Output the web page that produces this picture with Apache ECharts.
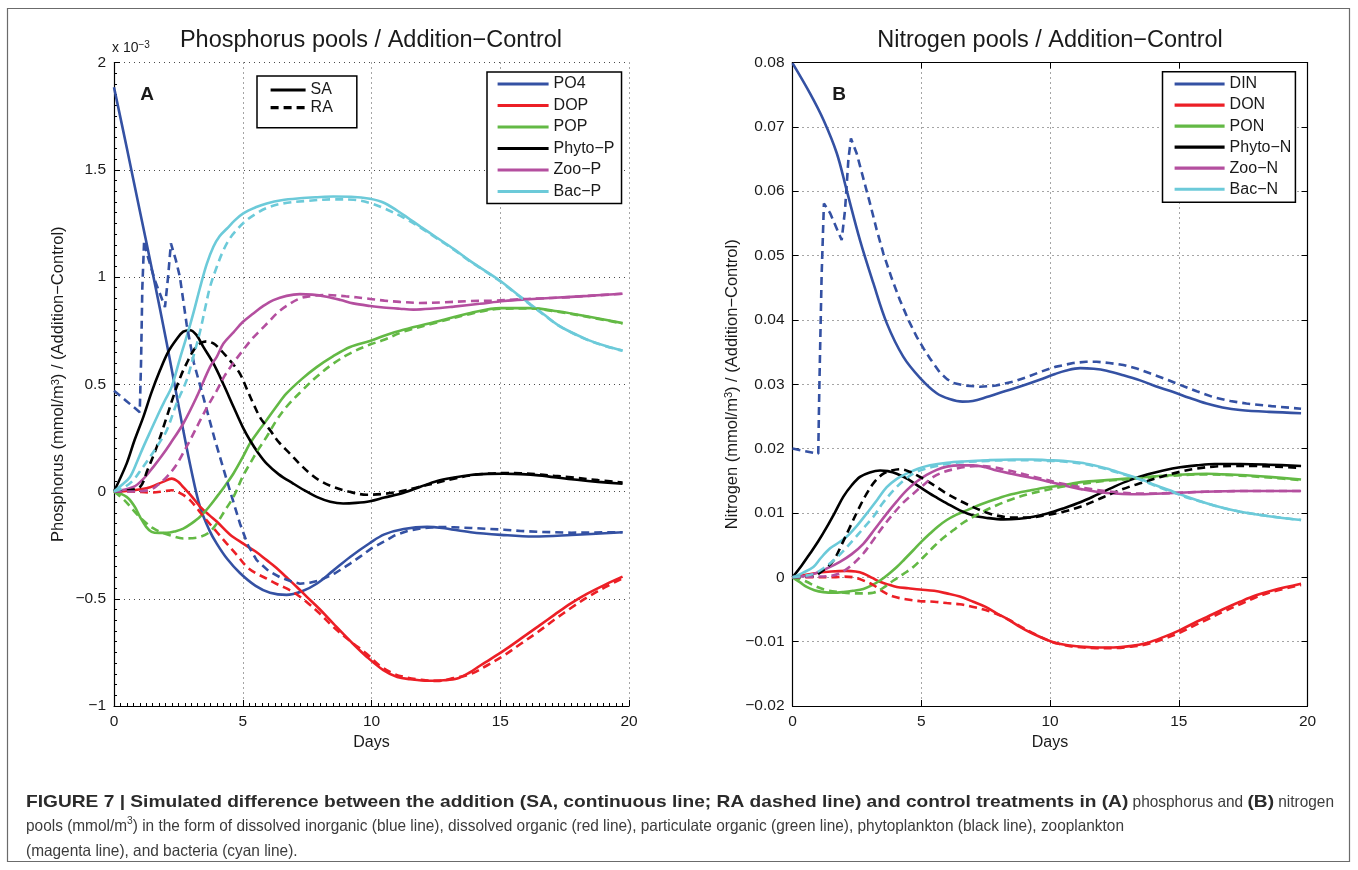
<!DOCTYPE html>
<html>
<head>
<meta charset="utf-8">
<script src="https://cdn.jsdelivr.net/npm/echarts/dist/echarts.min.js"></script>
<style>
  html, body { margin: 0; padding: 0; background: #ffffff; }
  #chart { width: 1358px; height: 870px; }
</style>
</head>
<body>
<div id="chart"></div>
<script>
// ---- Phosphorus pools (Addition − Control), units of 1e-3 mmol/m3; [day, value] ----
const po4SA = [[0,1.885],[0.5,1.6],[1,1.31],[1.5,1.02],[2.05,0.69],[2.69,0.285],[3.0,0.1],[3.34,-0.072],[3.7,-0.18],[3.99,-0.243],[4.4,-0.315],[4.89,-0.38],[5.5,-0.44],[6.06,-0.472],[6.7,-0.482],[7.3,-0.465],[7.87,-0.43],[8.5,-0.37],[9.17,-0.305],[9.94,-0.24],[10.5,-0.2],[11.25,-0.175],[12.16,-0.165],[12.74,-0.17],[13.85,-0.19],[15.02,-0.202],[16.3,-0.21],[17.76,-0.203],[19.75,-0.19]];
const po4RA = [[0,0.47],[0.5,0.42],[1.0,0.37],[1.05,0.6],[1.1,0.95],[1.17,1.17],[1.3,1.1],[1.6,0.98],[1.98,0.86],[2.1,1.0],[2.21,1.157],[2.4,1.08],[2.56,1.0],[2.82,0.78],[3.1,0.6],[3.47,0.44],[3.92,0.24],[4.38,0.053],[4.89,-0.149],[5.2,-0.25],[5.54,-0.32],[6.0,-0.37],[6.45,-0.40],[6.9,-0.42],[7.22,-0.43],[7.6,-0.425],[8.0,-0.414],[8.6,-0.38],[9.17,-0.336],[9.6,-0.3],[10.0,-0.265],[10.46,-0.235],[10.9,-0.205],[11.37,-0.185],[11.9,-0.172],[12.54,-0.165],[13.2,-0.167],[13.85,-0.17],[14.5,-0.174],[15.15,-0.178],[15.8,-0.184],[16.46,-0.188],[17.1,-0.19],[17.76,-0.192],[18.7,-0.191],[19.75,-0.19]];
const dopSA = [[0,0],[0.7,0.005],[1.4,0.02],[1.9,0.045],[2.24,0.06],[2.5,0.045],[2.69,0.02],[3.0,-0.02],[3.34,-0.07],[3.7,-0.11],[3.99,-0.14],[4.5,-0.2],[5.02,-0.243],[5.5,-0.28],[5.93,-0.32],[6.3,-0.355],[6.7,-0.40],[7.1,-0.445],[7.48,-0.49],[8.0,-0.55],[8.52,-0.616],[9.2,-0.7],[9.81,-0.77],[10.46,-0.833],[11.0,-0.865],[11.5,-0.875],[12.2,-0.882],[12.8,-0.88],[13.33,-0.872],[13.8,-0.845],[14.24,-0.81],[15.15,-0.741],[15.8,-0.686],[16.46,-0.63],[17.1,-0.575],[17.76,-0.52],[18.4,-0.475],[19.06,-0.435],[19.75,-0.397]];
const dopRA = [[0,0],[0.7,0],[1.4,-0.005],[1.9,0.0],[2.24,0.006],[2.6,-0.01],[2.95,-0.04],[3.3,-0.09],[3.6,-0.134],[4.0,-0.19],[4.38,-0.243],[4.8,-0.3],[5.15,-0.35],[5.5,-0.38],[5.93,-0.406],[6.3,-0.43],[6.7,-0.452],[7.1,-0.48],[7.48,-0.515],[8.0,-0.57],[8.52,-0.632],[9.2,-0.7],[9.81,-0.756],[10.3,-0.81],[10.85,-0.849],[11.4,-0.868],[11.88,-0.877],[12.54,-0.883],[13.2,-0.87],[13.85,-0.851],[14.5,-0.81],[15.15,-0.764],[15.8,-0.71],[16.46,-0.655],[17.1,-0.598],[17.76,-0.542],[18.4,-0.492],[19.06,-0.447],[19.75,-0.405]];
const popSA = [[0,0],[0.49,-0.025],[0.8,-0.07],[1.01,-0.118],[1.25,-0.165],[1.46,-0.188],[1.75,-0.193],[2.05,-0.193],[2.4,-0.185],[2.69,-0.173],[3.0,-0.15],[3.34,-0.118],[3.7,-0.07],[3.99,-0.025],[4.3,0.025],[4.64,0.084],[5.0,0.16],[5.28,0.224],[5.6,0.28],[5.93,0.333],[6.3,0.395],[6.7,0.457],[7.3,0.525],[7.87,0.58],[8.5,0.63],[9.17,0.674],[9.94,0.702],[10.46,0.725],[11.24,0.754],[12.54,0.793],[13.84,0.832],[15.02,0.855],[16.19,0.855],[17.23,0.84],[18.4,0.816],[19.75,0.785]];
const popRA = [[0,0],[0.4,-0.04],[0.75,-0.087],[1.0,-0.12],[1.27,-0.149],[1.5,-0.17],[1.79,-0.188],[2.2,-0.205],[2.69,-0.219],[3.0,-0.218],[3.34,-0.212],[3.7,-0.19],[3.99,-0.149],[4.3,-0.09],[4.64,-0.025],[5.0,0.07],[5.28,0.13],[5.6,0.195],[5.93,0.255],[6.3,0.33],[6.7,0.395],[7.3,0.47],[7.87,0.535],[8.5,0.595],[9.17,0.644],[9.94,0.685],[10.46,0.706],[11.24,0.745],[12.54,0.788],[13.84,0.828],[15.02,0.852],[16.19,0.853],[17.23,0.838],[18.4,0.814],[19.75,0.783]];
const phyPSA = [[0,0],[0.49,0.13],[0.8,0.24],[1.14,0.348],[1.45,0.46],[1.79,0.566],[2.1,0.65],[2.43,0.71],[2.69,0.745],[2.95,0.752],[3.2,0.73],[3.47,0.674],[3.86,0.597],[4.25,0.5],[4.64,0.395],[5.0,0.3],[5.28,0.239],[5.6,0.18],[5.93,0.13],[6.4,0.08],[6.96,0.037],[7.4,0.005],[7.87,-0.025],[8.4,-0.048],[8.9,-0.056],[9.4,-0.053],[9.94,-0.045],[10.5,-0.028],[11.25,-0.006],[11.9,0.022],[12.55,0.049],[13.2,0.065],[13.85,0.077],[14.5,0.082],[15.15,0.083],[15.8,0.081],[16.5,0.075],[17.76,0.057],[18.8,0.045],[19.75,0.036]];
const phyPRA = [[0,0],[0.5,0.005],[1.01,0.021],[1.3,0.1],[1.66,0.208],[2.0,0.33],[2.3,0.441],[2.6,0.54],[2.82,0.597],[3.1,0.66],[3.34,0.69],[3.6,0.7],[3.86,0.69],[4.1,0.665],[4.38,0.628],[4.65,0.59],[4.89,0.55],[5.15,0.48],[5.41,0.41],[5.7,0.34],[6.06,0.286],[6.4,0.23],[6.83,0.177],[7.2,0.13],[7.61,0.084],[8.0,0.05],[8.52,0.021],[9.1,0.0],[9.81,-0.015],[10.4,-0.012],[11.1,0.0],[11.8,0.02],[12.5,0.04],[13.2,0.06],[13.85,0.075],[14.5,0.083],[15.15,0.086],[15.8,0.085],[16.5,0.08],[17.1,0.073],[17.76,0.066],[18.8,0.053],[19.75,0.042]];
const zooPSA = [[0,0],[0.75,0.021],[1.15,0.06],[1.53,0.115],[1.85,0.165],[2.19,0.224],[2.69,0.317],[3.21,0.441],[3.73,0.581],[3.99,0.628],[4.25,0.69],[4.64,0.742],[5.0,0.79],[5.41,0.83],[5.8,0.865],[6.19,0.892],[6.7,0.912],[7.22,0.92],[7.7,0.918],[8.26,0.908],[8.8,0.893],[9.29,0.877],[9.94,0.865],[10.46,0.858],[11.1,0.852],[11.63,0.848],[12.4,0.853],[13.19,0.862],[14.2,0.875],[15.15,0.888],[16.1,0.896],[17.1,0.903],[18.4,0.912],[19.75,0.922]];
const zooPRA = [[0,0],[0.7,0.0],[1.4,0.008],[1.7,0.03],[2.05,0.068],[2.4,0.12],[2.69,0.18],[3.0,0.25],[3.34,0.33],[3.65,0.4],[3.99,0.47],[4.3,0.54],[4.64,0.6],[5.02,0.66],[5.35,0.71],[5.67,0.75],[6.0,0.79],[6.32,0.83],[6.7,0.865],[7.22,0.9],[7.7,0.912],[8.26,0.916],[9.0,0.91],[9.81,0.9],[10.5,0.89],[11.1,0.884],[11.89,0.879],[12.8,0.882],[13.84,0.888],[14.8,0.89],[15.6,0.895],[16.5,0.9],[17.5,0.905],[18.6,0.913],[19.75,0.922]];
const bacPSA = [[0,0],[0.3,0.03],[0.62,0.068],[0.9,0.14],[1.14,0.208],[1.45,0.29],[1.79,0.379],[2.0,0.43],[2.24,0.488],[2.56,0.62],[2.89,0.75],[3.1,0.84],[3.34,0.95],[3.6,1.06],[3.86,1.141],[4.1,1.19],[4.38,1.225],[4.7,1.265],[5.02,1.297],[5.5,1.325],[5.93,1.343],[6.5,1.358],[7.22,1.367],[7.9,1.372],[8.52,1.375],[9.2,1.374],[9.94,1.365],[10.5,1.345],[11.24,1.29],[11.9,1.235],[12.54,1.183],[13.2,1.13],[13.84,1.074],[14.4,1.03],[15.02,0.98],[15.6,0.925],[16.19,0.871],[16.7,0.825],[17.23,0.777],[17.8,0.74],[18.4,0.707],[19.1,0.678],[19.75,0.657]];
const bacPRA = [[0,0],[0.4,0.02],[0.75,0.053],[1.1,0.11],[1.4,0.161],[1.75,0.225],[2.05,0.286],[2.43,0.41],[2.82,0.519],[3.08,0.628],[3.34,0.745],[3.55,0.86],[3.73,0.954],[4.0,1.05],[4.25,1.125],[4.5,1.18],[4.76,1.219],[5.1,1.26],[5.54,1.297],[6.0,1.325],[6.57,1.343],[7.5,1.355],[8.52,1.362],[9.3,1.36],[9.94,1.345],[10.5,1.32],[11.24,1.277],[11.9,1.23],[12.54,1.18],[13.2,1.127],[13.84,1.072],[14.4,1.028],[15.02,0.978],[15.6,0.923],[16.19,0.869],[16.7,0.823],[17.23,0.776],[17.8,0.739],[18.4,0.706],[19.1,0.677],[19.75,0.656]];

// ---- Nitrogen pools (Addition − Control), mmol/m3; [day, value] ----
const dinSA = [[0,0.0799],[0.68,0.0752],[1.2,0.0711],[1.72,0.0659],[2.1,0.0602],[2.62,0.0524],[3.14,0.0457],[3.66,0.0395],[4.3,0.0343],[4.95,0.031],[5.6,0.0286],[6.1,0.0277],[6.6,0.0273],[7.0,0.0274],[7.54,0.028],[8.0,0.0286],[8.57,0.0293],[9.1,0.03],[9.6,0.0307],[10.2,0.0316],[10.6,0.0321],[11.17,0.0325],[11.7,0.0324],[12.2,0.0321],[12.85,0.0314],[13.5,0.0306],[14.1,0.0297],[14.79,0.0288],[15.4,0.0279],[16.08,0.027],[16.7,0.0264],[17.38,0.026],[18.5,0.0257],[19.75,0.0255]];
const dinRA = [[0,0.02],[0.5,0.0196],[1.0,0.0192],[1.04,0.029],[1.07,0.035],[1.13,0.0467],[1.22,0.0581],[1.46,0.0566],[1.91,0.0524],[2.04,0.0571],[2.17,0.0649],[2.27,0.0682],[2.49,0.0659],[2.75,0.062],[3.01,0.0581],[3.27,0.054],[3.53,0.0503],[3.85,0.0465],[4.17,0.0431],[4.5,0.04],[4.82,0.0374],[5.1,0.0355],[5.34,0.034],[5.73,0.0318],[6.0,0.0308],[6.24,0.0302],[6.7,0.0298],[7.28,0.0296],[7.9,0.0298],[8.57,0.0304],[9.1,0.0311],[9.61,0.0319],[10.2,0.0327],[10.9,0.0333],[11.4,0.0335],[11.81,0.0335],[12.3,0.0333],[12.85,0.033],[13.4,0.0324],[13.88,0.0317],[14.5,0.0308],[15.05,0.0299],[15.7,0.0289],[16.34,0.028],[17.0,0.0274],[17.63,0.027],[18.6,0.0266],[19.75,0.0262]];
const donSA = [[0,0],[0.81,0.0006],[1.5,0.0009],[2.1,0.001],[2.45,0.0009],[2.75,0.0006],[3.1,-0.0001],[3.4,-0.0007],[3.7,-0.0011],[4.05,-0.0015],[4.5,-0.0017],[4.95,-0.0019],[5.5,-0.0021],[5.99,-0.0025],[6.5,-0.003],[7.02,-0.0038],[7.5,-0.0046],[7.93,-0.0056],[8.4,-0.0066],[8.83,-0.0077],[9.3,-0.0087],[9.87,-0.0097],[10.3,-0.0103],[10.78,-0.0106],[11.3,-0.0108],[11.81,-0.0109],[12.46,-0.0109],[13.1,-0.0107],[13.76,-0.0102],[14.4,-0.0093],[15.05,-0.0082],[15.6,-0.0071],[16.08,-0.0062],[16.7,-0.005],[17.38,-0.0038],[18.0,-0.0028],[18.67,-0.002],[19.75,-0.001]];
const donRA = [[0,0],[0.8,0.0],[1.59,0.0],[2.0,0.0001],[2.36,0.0],[2.75,-0.0005],[3.14,-0.0012],[3.5,-0.0022],[3.92,-0.003],[4.4,-0.0034],[4.95,-0.0037],[5.5,-0.0038],[5.99,-0.004],[6.5,-0.0042],[7.02,-0.0046],[7.5,-0.0051],[7.93,-0.0057],[8.4,-0.0066],[8.83,-0.0076],[9.3,-0.0086],[9.87,-0.0097],[10.3,-0.0103],[10.78,-0.0107],[11.3,-0.0109],[11.81,-0.011],[12.46,-0.011],[13.1,-0.0108],[13.76,-0.0104],[14.4,-0.0096],[15.05,-0.0086],[15.6,-0.0075],[16.08,-0.0066],[16.7,-0.0054],[17.38,-0.0042],[18.0,-0.0031],[18.67,-0.0022],[19.75,-0.0012]];
const ponSA = [[0,0],[0.3,-0.0008],[0.55,-0.0015],[0.85,-0.002],[1.2,-0.0023],[1.6,-0.0024],[1.97,-0.0023],[2.35,-0.0021],[2.75,-0.0018],[3.1,-0.0012],[3.4,-0.0005],[3.7,0.0004],[4.05,0.0016],[4.35,0.0028],[4.69,0.0042],[5.0,0.0055],[5.34,0.0068],[5.65,0.0079],[5.99,0.0089],[6.35,0.0097],[6.76,0.0104],[7.3,0.0113],[7.93,0.0122],[8.5,0.0129],[9.22,0.0135],[9.9,0.014],[10.52,0.0143],[10.9,0.0146],[11.5,0.0149],[12.2,0.0151],[12.85,0.0153],[13.5,0.0155],[14.1,0.0157],[14.79,0.0159],[15.4,0.016],[16.08,0.0161],[16.7,0.016],[17.38,0.0159],[18.5,0.0156],[19.75,0.0152]];
const ponRA = [[0,0],[0.3,-0.0003],[0.55,-0.0007],[0.9,-0.0014],[1.33,-0.002],[1.8,-0.0023],[2.36,-0.0025],[2.75,-0.0025],[3.14,-0.0024],[3.5,-0.0017],[3.92,-0.0005],[4.3,0.0005],[4.69,0.0016],[5.1,0.0032],[5.47,0.0047],[5.85,0.0061],[6.24,0.0073],[6.6,0.0084],[7.02,0.0094],[7.45,0.0103],[7.93,0.0112],[8.5,0.0121],[9.22,0.013],[9.9,0.0136],[10.52,0.0141],[11.2,0.0145],[12.2,0.015],[13.5,0.0154],[14.79,0.0158],[16.08,0.016],[17.38,0.0158],[18.5,0.0155],[19.75,0.0151]];
const phyNSA = [[0,0],[0.35,0.0018],[0.68,0.0037],[1.0,0.0056],[1.33,0.0078],[1.65,0.0101],[1.97,0.0125],[2.3,0.0143],[2.62,0.0156],[3.0,0.0163],[3.4,0.0166],[3.7,0.0165],[4.05,0.0161],[4.5,0.0152],[4.95,0.014],[5.5,0.0126],[5.99,0.0115],[6.5,0.0104],[7.02,0.0096],[7.6,0.0092],[8.19,0.009],[8.8,0.0091],[9.35,0.0094],[9.9,0.0099],[10.52,0.0107],[11.2,0.0117],[11.81,0.0128],[12.5,0.0141],[13.1,0.0151],[13.8,0.016],[14.4,0.0166],[15.05,0.0171],[15.7,0.0174],[16.4,0.0176],[17.38,0.0176],[18.5,0.0175],[19.75,0.0173]];
const phyNRA = [[0,0],[0.5,0.0001],[0.81,0.0002],[1.2,0.0011],[1.59,0.0026],[1.9,0.005],[2.23,0.0078],[2.55,0.0105],[2.88,0.013],[3.2,0.0149],[3.53,0.0161],[3.85,0.0166],[4.17,0.0168],[4.55,0.0164],[4.95,0.0156],[5.5,0.0143],[5.99,0.013],[6.5,0.0119],[7.02,0.0109],[7.5,0.0101],[7.93,0.0096],[8.5,0.0093],[9.22,0.0093],[9.9,0.0097],[10.52,0.0102],[11.2,0.011],[11.81,0.012],[12.5,0.0132],[13.1,0.0141],[13.5,0.0146],[14.3,0.0156],[15.05,0.0164],[15.7,0.0169],[16.34,0.0172],[17.1,0.0173],[17.9,0.0173],[18.8,0.0172],[19.75,0.017]];
const zooNSA = [[0,0],[0.5,0.0002],[0.81,0.0005],[1.3,0.0013],[1.84,0.0024],[2.3,0.0036],[2.75,0.0052],[3.2,0.0075],[3.66,0.0099],[4.05,0.0118],[4.43,0.0135],[4.8,0.0148],[5.21,0.0159],[5.6,0.0167],[5.99,0.0172],[6.5,0.0174],[7.02,0.0174],[7.5,0.0171],[7.93,0.0166],[8.5,0.0161],[9.22,0.0155],[9.9,0.0149],[10.52,0.0143],[11.2,0.0137],[12.2,0.0131],[13.5,0.0129],[14.79,0.0131],[16.0,0.0133],[17.38,0.0134],[18.5,0.0134],[19.75,0.0134]];
const zooNRA = [[0,0],[0.8,0.0001],[1.59,0.0003],[2.0,0.001],[2.36,0.0021],[2.75,0.0037],[3.14,0.0058],[3.5,0.0078],[3.92,0.0099],[4.3,0.0116],[4.69,0.013],[5.1,0.0144],[5.47,0.0156],[5.9,0.0164],[6.38,0.0169],[6.8,0.0172],[7.28,0.0173],[7.8,0.0171],[8.4,0.0166],[9.0,0.016],[9.6,0.0154],[10.2,0.0148],[10.9,0.0142],[11.6,0.0137],[12.4,0.0133],[13.5,0.013],[14.79,0.0131],[16.0,0.0133],[17.38,0.0134],[19.75,0.0134]];
const bacNSA = [[0,0],[0.4,0.0007],[0.81,0.0016],[1.1,0.003],[1.46,0.0045],[1.8,0.0054],[2.1,0.0063],[2.5,0.008],[2.88,0.0099],[3.3,0.0121],[3.66,0.014],[4.05,0.0153],[4.43,0.0161],[4.9,0.0169],[5.34,0.0174],[6.0,0.0178],[6.63,0.018],[7.6,0.0182],[8.57,0.0183],[9.3,0.0183],[9.9,0.0182],[10.5,0.0181],[11.2,0.0178],[11.7,0.0174],[12.2,0.0169],[12.85,0.0161],[13.5,0.0153],[14.1,0.0143],[14.79,0.0133],[15.4,0.0124],[16.08,0.0115],[16.7,0.0108],[17.38,0.0102],[18.5,0.0095],[19.75,0.0089]];
const bacNRA = [[0,0],[0.4,0.0002],[0.81,0.0005],[1.2,0.0014],[1.59,0.0026],[1.95,0.004],[2.36,0.0058],[2.75,0.0076],[3.14,0.0094],[3.5,0.0115],[3.92,0.0135],[4.3,0.015],[4.69,0.0161],[5.1,0.0168],[5.6,0.0173],[6.1,0.0177],[6.63,0.0179],[7.6,0.0181],[8.57,0.0182],[9.3,0.0182],[9.9,0.0181],[10.5,0.018],[11.2,0.0177],[11.7,0.0173],[12.2,0.0168],[12.85,0.016],[13.5,0.0152],[14.1,0.0142],[14.79,0.0132],[15.4,0.0123],[16.08,0.0115],[16.7,0.0108],[17.38,0.0102],[18.5,0.0095],[19.75,0.0089]];

// ---- names, colours, tick labels ----
const phosNames = ['PO4', 'DOP', 'POP', 'Phyto−P', 'Zoo−P', 'Bac−P'];
const nitroNames = ['DIN', 'DON', 'PON', 'Phyto−N', 'Zoo−N', 'Bac−N'];
const treatmentNames = ['SA', 'RA'];
const poolColors = ['#3451a3', '#ec1f26', '#63b945', '#000000', '#b44f9f', '#6ccad9'];
const dayTicks = [0, 5, 10, 15, 20];
const phosTicks = [-1, -0.5, 0, 0.5, 1, 1.5, 2];
const nitroTicks = [-0.02, -0.01, 0, 0.01, 0.02, 0.03, 0.04, 0.05, 0.06, 0.07, 0.08];

const phosSA = [po4SA, dopSA, popSA, phyPSA, zooPSA, bacPSA];
const phosRA = [po4RA, dopRA, popRA, phyPRA, zooPRA, bacPRA];
const nitroSA = [dinSA, donSA, ponSA, phyNSA, zooNSA, bacNSA];
const nitroRA = [dinRA, donRA, ponRA, phyNRA, zooNRA, bacNRA];
const spikySeries = [po4RA, dinRA];

const FONT = '"Liberation Sans", Arial, Helvetica, sans-serif';
const TEXT = '#1a1a1a';
const DASH = [8, 5];
const LW = 2.6;

function fmtMinus(v, digits) {
  const r = +(+v).toFixed(digits);
  if (r === 0) return '0';
  return (r < 0 ? '−' : '') + String(Math.abs(r));
}

function mkSeries(name, data, color, dashed, axisIndex) {
  return {
    type: 'line', name, data,
    xAxisIndex: axisIndex, yAxisIndex: axisIndex,
    symbol: 'none', showSymbol: false,
    smooth: spikySeries.includes(data) ? false : 0.35,
    lineStyle: { color, width: LW, type: dashed ? DASH : 'solid', cap: 'butt' },
    itemStyle: { color },
    emphasis: { disabled: true },
    silent: true,
    animation: false,
    z: dashed ? 4 : 3
  };
}

const series = [];
phosSA.forEach((d, i) => series.push(mkSeries(phosNames[i], d, poolColors[i], false, 0)));
phosRA.forEach((d, i) => series.push(mkSeries(phosNames[i], d, poolColors[i], true, 0)));
nitroSA.forEach((d, i) => series.push(mkSeries(nitroNames[i], d, poolColors[i], false, 1)));
nitroRA.forEach((d, i) => series.push(mkSeries(nitroNames[i], d, poolColors[i], true, 1)));
// treatment key entries (solid = SA, dashed = RA)
series.push(mkSeries(treatmentNames[0], [], '#000000', false, 0));
series.push(mkSeries(treatmentNames[1], [], '#000000', true, 0));

const gridBox = [
  { left: 114, top: 62.5, width: 515, height: 643.5 },
  { left: 792.5, top: 62.5, width: 515, height: 643.5 }
];

const dotted = { color: '#4a4a4a', width: 1, type: [1, 4] };

function bottomAxis(gi, minor) {
  return {
    type: 'value', gridIndex: gi, position: 'bottom',
    min: dayTicks[0], max: dayTicks[dayTicks.length - 1], interval: 5,
    name: 'Days', nameLocation: 'middle', nameGap: 29,
    nameTextStyle: { fontFamily: FONT, fontSize: 16, color: TEXT },
    axisLine: { show: true, onZero: false, lineStyle: { color: '#000', width: 1.2 } },
    axisTick: { show: true, inside: true, length: 6, lineStyle: { color: '#000' } },
    minorTick: { show: minor, splitNumber: 20, length: 3, lineStyle: { color: '#000' } },
    axisLabel: { fontFamily: FONT, fontSize: 15.5, color: TEXT, margin: 8 },
    splitLine: { show: true, lineStyle: dotted }
  };
}

function sideAxis(gi, ticks, interval, digits, name, nameGap, minor) {
  return {
    type: 'value', gridIndex: gi, position: 'left',
    min: ticks[0], max: ticks[ticks.length - 1], interval,
    name, nameLocation: 'middle', nameGap, nameRotate: 90,
    nameTextStyle: {
      fontFamily: FONT, fontSize: 16.5, color: TEXT,
      rich: { s: { fontFamily: FONT, fontSize: 11, color: TEXT, verticalAlign: 'top', padding: [0, 0, 6, 0] } }
    },
    axisLine: { show: true, onZero: false, lineStyle: { color: '#000', width: 1.2 } },
    axisTick: { show: true, inside: true, length: 6, lineStyle: { color: '#000' } },
    minorTick: { show: minor, splitNumber: 10, length: 3, lineStyle: { color: '#000' } },
    axisLabel: { fontFamily: FONT, fontSize: 15.5, color: TEXT, margin: 8, formatter: v => fmtMinus(v, digits) },
    splitLine: { show: true, lineStyle: dotted }
  };
}

// frame axes on the top and right of the nitrogen panel
const frameX = {
  type: 'value', gridIndex: 1, position: 'top', min: 0, max: 20, interval: 5,
  axisLine: { show: true, onZero: false, lineStyle: { color: '#000', width: 1.2 } },
  axisTick: { show: true, inside: true, length: 6, lineStyle: { color: '#000' } },
  axisLabel: { show: false }, splitLine: { show: false }
};
const frameY = {
  type: 'value', gridIndex: 1, position: 'right', min: -0.02, max: 0.08, interval: 0.01,
  axisLine: { show: true, onZero: false, lineStyle: { color: '#000', width: 1.2 } },
  axisTick: { show: true, inside: true, length: 6, lineStyle: { color: '#000' } },
  axisLabel: { show: false }, splitLine: { show: false }
};

const legendText = { fontFamily: FONT, fontSize: 16, color: TEXT };
// line-only legend keys: the marker is hidden, the line keeps the series colour and dash
const keyMarker = { opacity: 0, borderWidth: 0 };
const keyLine = { width: 3.2 };

const legends = [
  {
    data: phosNames, orient: 'vertical', left: 487, top: 72,
    itemWidth: 51, itemHeight: 16, itemGap: 5.5,
    padding: [4, 7, 4, 9], backgroundColor: '#fff',
    borderColor: '#000', borderWidth: 1.5, borderRadius: 0,
    textStyle: legendText, selectedMode: false, itemStyle: keyMarker, lineStyle: keyLine
  },
  {
    data: treatmentNames, orient: 'vertical', left: 257, top: 76,
    itemWidth: 35, itemHeight: 14, itemGap: 1.7,
    padding: [6, 24, 12, 12], backgroundColor: '#fff',
    borderColor: '#000', borderWidth: 1.5, borderRadius: 0,
    textStyle: legendText, selectedMode: false, itemStyle: keyMarker, lineStyle: keyLine
  },
  {
    data: nitroNames, orient: 'vertical', left: 1162.5, top: 71.7,
    itemWidth: 50, itemHeight: 16, itemGap: 5.05,
    padding: [4.3, 4, 5, 10.5], backgroundColor: '#fff',
    borderColor: '#000', borderWidth: 1.5, borderRadius: 0,
    textStyle: legendText, selectedMode: false, itemStyle: keyMarker, lineStyle: keyLine
  }
];

// ---- caption (bold lead-in, light condensed body) ----
const CAP_FONT = '"Liberation Sans", Arial, Helvetica, sans-serif';
const captionLines = [
  [['b', 'FIGURE 7 | Simulated difference between the addition (SA, continuous line; RA dashed line) and control treatments in (A)'], ['n', ' phosphorus and '], ['b', '(B)'], ['n', ' nitrogen']],
  [['n', 'pools (mmol/m'], ['s', '3'], ['n', ') in the form of dissolved inorganic (blue line), dissolved organic (red line), particulate organic (green line), phytoplankton (black line), zooplankton']],
  [['n', '(magenta line), and bacteria (cyan line).']]
];
const captionY = [802, 826, 851];
const CAPTION_LEFT = 26;
const LINE1_RIGHT = 1334;   // end of the first caption line
const LINE2_RIGHT = 1124;   // end of the second caption line

const capStyles = {
  b: { weight: 'bold', size: 17, color: '#2b2b2b', dy: 0 },
  n: { weight: 'normal', size: 16.5, color: '#3c3c3c', dy: 0 },
  s: { weight: 'normal', size: 11, color: '#3c3c3c', dy: -5 }
};

const measureCtx = document.createElement('canvas').getContext('2d');
function segWidth(kind, text) {
  const st = capStyles[kind];
  measureCtx.font = st.weight + ' ' + st.size + 'px ' + CAP_FONT;
  return measureCtx.measureText(text).width;
}
function kindWidth(parts, kinds) {
  return parts.filter(p => kinds.includes(p[0])).reduce((a, p) => a + segWidth(p[0], p[1]), 0);
}
// horizontal squeeze of the light body text, taken from the second line
const normScale = (LINE2_RIGHT - CAPTION_LEFT) / kindWidth(captionLines[1], ['n', 's']);
// squeeze of the bold text, so the first line ends at its right edge
const boldScale = (LINE1_RIGHT - CAPTION_LEFT - normScale * kindWidth(captionLines[0], ['n'])) / kindWidth(captionLines[0], ['b']);
const kindScale = { b: boldScale, n: normScale, s: normScale };

const captionGraphics = [];
captionLines.forEach((parts, li) => {
  let cx = CAPTION_LEFT;
  parts.forEach(([k, t]) => {
    const st = capStyles[k];
    captionGraphics.push({
      type: 'text', x: cx, y: captionY[li] + st.dy, scaleX: kindScale[k], scaleY: 1, silent: true,
      style: { text: t, font: st.weight + ' ' + st.size + 'px ' + CAP_FONT, fill: st.color, align: 'left', verticalAlign: 'middle' }
    });
    cx += segWidth(k, t) * kindScale[k];
  });
});

const option = {
  animation: false,
  backgroundColor: '#ffffff',
  grid: gridBox,
  xAxis: [bottomAxis(0, true), bottomAxis(1, false), frameX],
  yAxis: [
    sideAxis(0, phosTicks, 0.5, 2, 'Phosphorus (mmol/m{s|3}) / (Addition−Control)', 47, true),
    sideAxis(1, nitroTicks, 0.01, 2, 'Nitrogen (mmol/m{s|3}) / (Addition−Control)', 52, false),
    frameY
  ],
  legend: legends,
  series,
  graphic: [
    { type: 'rect', silent: true, shape: { x: 7.5, y: 8.5, width: 1342, height: 853 },
      style: { fill: 'none', stroke: '#6b6b6b', lineWidth: 1.2 }, z: -10 },
    { type: 'text', x: 371, y: 41, silent: true,
      style: { text: 'Phosphorus pools / Addition−Control', font: '23.5px ' + FONT, fill: TEXT, align: 'center', verticalAlign: 'middle' } },
    { type: 'text', x: 1050, y: 41, silent: true,
      style: { text: 'Nitrogen pools / Addition−Control', font: '23.5px ' + FONT, fill: TEXT, align: 'center', verticalAlign: 'middle' } },
    { type: 'text', x: 112, y: 48, silent: true,
      style: { text: 'x 10{s|−3}', font: '14px ' + FONT, fill: TEXT, align: 'left', verticalAlign: 'middle',
        rich: { s: { fontFamily: FONT, fontSize: 10, fill: TEXT, verticalAlign: 'top', padding: [0, 0, 6, 0] } } } },
    { type: 'text', x: 147, y: 95, silent: true,
      style: { text: 'A', font: 'bold 19px ' + FONT, fill: TEXT, align: 'center', verticalAlign: 'middle' } },
    { type: 'text', x: 839, y: 95, silent: true,
      style: { text: 'B', font: 'bold 19px ' + FONT, fill: TEXT, align: 'center', verticalAlign: 'middle' } }
  ].concat(captionGraphics)
};

const chart = echarts.init(document.getElementById('chart'), null, { renderer: 'canvas' });
chart.setOption(option);
</script>
</body>
</html>
